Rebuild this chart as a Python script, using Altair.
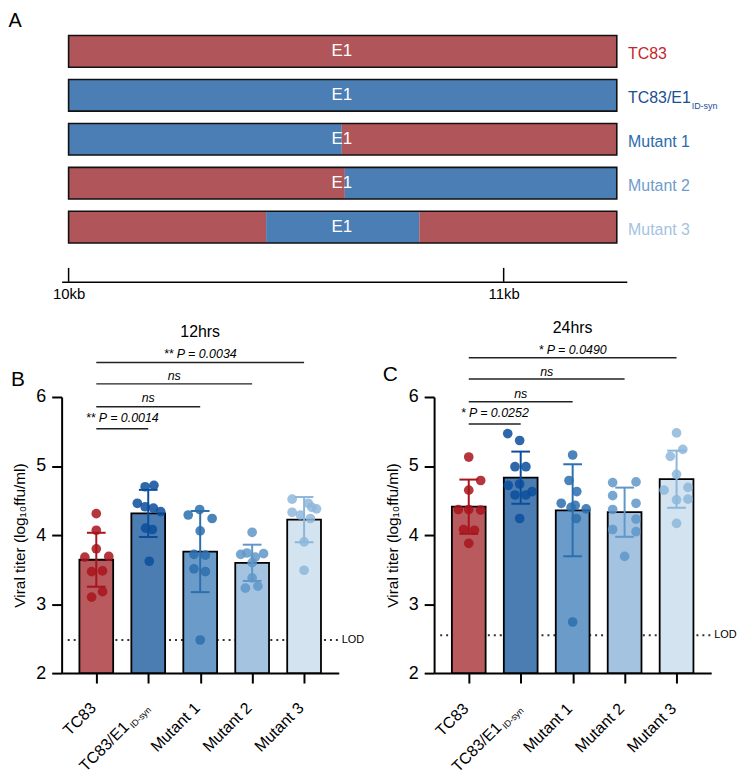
import altair as alt
import pandas as pd

FONT = "Liberation Sans"

# ---------------- Panel A: E1 genome map ----------------
map_rows = ["TC83", "TC83/E1", "Mutant 1", "Mutant 2", "Mutant 3"]
map_row_idx = [0, 1, 2, 3, 4]
map_label_colors = ["#c1272d", "#1a4e92", "#2b6bab", "#6e9ccb", "#a3c3e1"]
seg_row = [0, 1, 2, 2, 3, 3, 4, 4, 4]
seg_start = [10.0, 10.0, 10.0, 10.628, 10.0, 10.635, 10.0, 10.454, 10.806]
seg_end = [11.26, 11.26, 10.628, 11.26, 10.635, 11.26, 10.454, 10.806, 11.26]
seg_kind = ["TC83", "ID", "ID", "TC83", "TC83", "ID", "TC83", "ID", "TC83"]
gene_start = [10.0, 10.0, 10.0, 10.0, 10.0]
gene_end = [11.26, 11.26, 11.26, 11.26, 11.26]
e1_center = [10.628, 10.628, 10.628, 10.628, 10.628]
kb_ticks = [10, 11]

# ---------------- Panels B / C: viral titers ----------------
groups = ["TC83", "TC83/E1", "Mutant 1", "Mutant 2", "Mutant 3"]
bar_fill = ["#b85a5e", "#4b7db3", "#6b9bc9", "#a3c3e0", "#d3e3f0"]
point_color = ["#a8141c", "#0a4e9b", "#2c6fae", "#5f97c9", "#8db7da"]

# 12 hrs (log10 ffu/ml) and horizontal jitter (category units)
h12_tc83 = [4.31, 4.07, 3.80, 3.68, 3.69, 3.47, 3.48, 3.18, 3.10]
h12_tc83_dx = [0, 0, 0, -0.22, 0.24, -0.09, 0.12, 0.12, -0.09]
h12_e1 = [4.70, 4.72, 4.46, 4.41, 4.39, 4.34, 4.10, 4.08, 3.62]
h12_e1_dx = [-0.06, 0.11, -0.21, -0.06, 0.10, 0.24, -0.05, 0.08, 0.02]
h12_m1 = [4.29, 4.37, 4.24, 4.06, 3.72, 3.71, 3.51, 3.47, 2.48]
h12_m1_dx = [-0.23, -0.01, 0.23, 0, -0.12, 0.10, -0.12, 0.10, 0]
h12_m2 = [4.04, 3.72, 3.73, 3.74, 3.68, 3.60, 3.38, 3.23, 3.26]
h12_m2_dx = [0, -0.22, 0.22, -0.10, 0.06, 0, 0, -0.13, 0.11]
h12_m3 = [4.52, 4.46, 4.40, 4.38, 4.33, 4.29, 4.24, 3.90, 3.49]
h12_m3_dx = [-0.23, 0.08, 0.15, 0.24, -0.23, -0.07, 0.12, 0, 0]

# 24 hrs
h24_tc83 = [5.13, 4.79, 4.65, 4.37, 4.37, 4.36, 4.08, 4.07, 3.88]
h24_tc83_dx = [0, 0.23, 0, -0.20, 0, 0.23, -0.10, 0.11, 0]
h24_e1 = [5.47, 5.37, 4.99, 4.99, 4.72, 4.74, 4.63, 4.58, 4.58, 4.24]
h24_e1_dx = [-0.25, -0.02, -0.11, 0.10, -0.24, -0.02, 0.22, -0.11, 0.10, -0.02]
h24_m1 = [5.16, 4.79, 4.63, 4.46, 4.43, 4.40, 4.38, 4.24, 2.74]
h24_m1_dx = [0, -0.07, 0.08, -0.22, 0.05, -0.03, 0.26, 0.07, 0]
h24_m2 = [4.76, 4.77, 4.57, 4.46, 4.37, 4.23, 4.08, 4.05, 3.69]
h24_m2_dx = [-0.23, 0.22, -0.23, 0.22, -0.23, 0.22, -0.23, 0.22, 0]
h24_m3 = [5.48, 5.24, 5.14, 4.88, 4.65, 4.69, 4.51, 4.52, 4.17]
h24_m3_dx = [0, 0.12, -0.12, 0, -0.24, 0.22, 0, 0.22, 0]

# comparisons (vs TC83)
cmp_to = [1, 2, 3, 4]
cmp_12 = ["** P = 0.0014", "ns", "ns", "** P = 0.0034"]
cmp_24 = ["* P = 0.0252", "ns", "ns", "* P = 0.0490"]
lod_12 = 2.48
lod_24 = 2.55

# ------------------------------------------------------------
red_bar, blue_bar = "#b0565a", "#4a7eb5"

axA_x = alt.Scale(domain=[9.9840, 11.283], nice=False, zero=False)
axA_y = alt.Scale(domain=[-0.475, 5.243], nice=False, zero=False, reverse=True)
axisA = alt.Axis(values=kb_ticks, labelExpr="datum.value + 'kb'", ticks=False,
                 domainColor="black", domainWidth=1.5, labelFontSize=15,
                 labelColor="black", labelPadding=5, title=None, grid=False,
                 labelFlush=False)

seg_df = pd.DataFrame({"row": seg_row, "start": seg_start, "end": seg_end, "kind": seg_kind})
gene_df = pd.DataFrame({"row": map_row_idx, "name": map_rows, "start": gene_start,
                        "end": gene_end, "e1": e1_center})


def XA(f):
    return alt.X(f, scale=axA_x, axis=axisA)


def YA(f):
    return alt.Y(f, scale=axA_y, axis=None)


A_seg = alt.Chart(seg_df).transform_calculate(
    y1="datum.row - 0.36", y2="datum.row + 0.36"
).mark_rect().encode(
    x=XA("start:Q"), x2="end:Q", y=YA("y1:Q"), y2="y2:Q",
    fill=alt.Fill("kind:N", scale=alt.Scale(domain=["TC83", "ID"], range=[red_bar, blue_bar]),
                  legend=None),
)
A_outline = alt.Chart(gene_df).transform_calculate(
    y1="datum.row - 0.36", y2="datum.row + 0.36"
).mark_rect(fillOpacity=0, stroke="#111", strokeWidth=1.6).encode(
    x=XA("start:Q"), x2="end:Q", y=YA("y1:Q"), y2="y2:Q"
)
A_e1 = alt.Chart(gene_df).mark_text(color="white", fontSize=17, font=FONT,
                                    baseline="middle").encode(
    x=XA("e1:Q"), y=YA("row:Q"), text=alt.value("E1")
)
A_lab = alt.Chart(gene_df).transform_calculate(
    lx="11.286", ly="datum.row + 0.07"
).mark_text(align="left", baseline="middle", fontSize=16, font=FONT).encode(
    x=XA("lx:Q"), y=YA("ly:Q"), text="name:N",
    color=alt.Color("name:N", scale=alt.Scale(domain=map_rows, range=map_label_colors),
                    legend=None),
)
A_sub = alt.Chart(gene_df).transform_filter("datum.row == 1").transform_calculate(
    lx="11.286", ly="datum.row + 0.25"
).mark_text(align="left", baseline="middle", fontSize=9, font=FONT, dx=64,
            color=map_label_colors[1]).encode(
    x=XA("lx:Q"), y=YA("ly:Q"), text=alt.value("ID-syn")
)
A_ticks = alt.Chart(pd.DataFrame({"kb": kb_ticks})).transform_calculate(
    y1="4.927", y2="5.243"
).mark_rule(color="black", strokeWidth=1.5).encode(
    x=XA("kb:Q"), y=YA("y1:Q"), y2="y2:Q"
)
A_letter = alt.Chart(pd.DataFrame({"t": ["A"]})).transform_calculate(
    lx="9.877", ly="-0.68"
).mark_text(fontSize=20, font=FONT, baseline="middle", align="center").encode(
    x=XA("lx:Q"), y=YA("ly:Q"), text="t:N"
)

panelA = alt.layer(A_seg, A_outline, A_e1, A_lab, A_sub, A_ticks, A_letter).properties(
    width=569, height=253
)

# ------------------------------------------------------------
xs = alt.Scale(domain=[-0.667, 4.667], nice=False, zero=False)
ys = alt.Scale(domain=[2, 6], nice=False, zero=False)
axis_x = alt.Axis(values=[0, 1, 2, 3, 4], labels=False, title=None, tickSize=10,
                  tickWidth=2, tickColor="black", domainWidth=2, domainColor="black",
                  grid=False)
axis_y = alt.Axis(values=[2, 3, 4, 5, 6], title="Viral titer (log\u2081\u2080ffu/ml)",
                  titleFontSize=15.5, titleFontWeight="normal", titleColor="black",
                  titlePadding=8, labelFontSize=18, labelColor="black", labelPadding=6,
                  labelFlush=False, tickSize=10, tickWidth=2, tickColor="black",
                  domainWidth=2, domainColor="black", grid=False, format="d")


def X(f):
    return alt.X(f, scale=xs, axis=axis_x)


def Y(f):
    return alt.Y(f, scale=ys, axis=axis_y)


fill_scale = alt.Scale(domain=groups, range=bar_fill)
pt_scale = alt.Scale(domain=groups, range=point_color)


def make_points(vals, offs):
    rows = []
    for gi, (vv, oo) in enumerate(zip(vals, offs)):
        for v, o in zip(vv, oo):
            rows.append({"group": groups[gi], "idx": gi, "off": o, "value": v})
    return pd.DataFrame(rows)


def panel(pts, cmp_lab, bk_y, bk_ty, title, title_y, letter, letter_xy, lod, xlab_y):
    lod_df = pd.DataFrame({"x1": [-0.55], "x2": [4.667], "y": [lod]})
    lod_rule = alt.Chart(lod_df).mark_rule(strokeDash=[2, 4], strokeWidth=2,
                                           color="#333").encode(
        x=X("x1:Q"), x2="x2:Q", y=Y("y:Q"))
    lod_txt = alt.Chart(lod_df).mark_text(align="left", dx=3, fontSize=11, font=FONT,
                                          baseline="middle").encode(
        x=X("x2:Q"), y=Y("y:Q"), text=alt.value("LOD"))

    agg = alt.Chart(pts).transform_aggregate(
        mean="mean(value)", sd="stdev(value)", groupby=["idx", "group"]
    ).transform_calculate(
        x1="datum.idx - 0.325", x2="datum.idx + 0.325", base="2",
        lo="datum.mean - datum.sd", hi="datum.mean + datum.sd",
        c1="datum.idx - 0.18", c2="datum.idx + 0.18",
    )
    bars = agg.mark_rect(stroke="black", strokeWidth=1.8).encode(
        x=X("x1:Q"), x2="x2:Q", y=Y("mean:Q"), y2="base:Q",
        fill=alt.Fill("group:N", scale=fill_scale, legend=None))
    points = alt.Chart(pts).transform_calculate(px="datum.idx + datum.off").mark_circle(
        size=95, opacity=0.85).encode(
        x=X("px:Q"), y=Y("value:Q"),
        color=alt.Color("group:N", scale=pt_scale, legend=None))
    err = agg.mark_rule(strokeWidth=2).encode(
        x=X("idx:Q"), y=Y("lo:Q"), y2="hi:Q",
        color=alt.Color("group:N", scale=pt_scale, legend=None))
    cap_hi = agg.mark_rule(strokeWidth=2).encode(
        x=X("c1:Q"), x2="c2:Q", y=Y("hi:Q"),
        color=alt.Color("group:N", scale=pt_scale, legend=None))
    cap_lo = agg.mark_rule(strokeWidth=2).encode(
        x=X("c1:Q"), x2="c2:Q", y=Y("lo:Q"),
        color=alt.Color("group:N", scale=pt_scale, legend=None))

    bk_df = pd.DataFrame({"x1": [0, 0, 0, 0], "x2": cmp_to, "y": bk_y, "ty": bk_ty,
                          "t": cmp_lab})
    bk_rule = alt.Chart(bk_df).mark_rule(strokeWidth=1.5, color="#222").encode(
        x=X("x1:Q"), x2="x2:Q", y=Y("y:Q"))
    bk_txt = alt.Chart(bk_df).transform_calculate(xm="(datum.x1 + datum.x2) / 2").mark_text(
        fontStyle="italic", fontSize=12.5, font=FONT, baseline="middle").encode(
        x=X("xm:Q"), y=Y("ty:Q"), text="t:N")

    misc_df = pd.DataFrame({"x": [2, letter_xy[0]], "y": [title_y, letter_xy[1]],
                            "t": [title, letter], "s": [16, 21]})
    ttl = alt.Chart(misc_df).transform_filter("datum.s == 16").mark_text(
        fontSize=16, font=FONT, baseline="middle").encode(
        x=X("x:Q"), y=Y("y:Q"), text="t:N")
    let = alt.Chart(misc_df).transform_filter("datum.s == 21").mark_text(
        fontSize=21, font=FONT, baseline="middle").encode(
        x=X("x:Q"), y=Y("y:Q"), text="t:N")

    lab_df = pd.DataFrame({"idx": [0, 1, 2, 3, 4], "t": groups})
    lab_df["ly"] = xlab_y
    xl_main = alt.Chart(lab_df).transform_filter("datum.idx != 1").mark_text(
        angle=315, align="right", baseline="middle", fontSize=16, font=FONT, dx=-4).encode(
        x=X("idx:Q"), y=Y("ly:Q"), text="t:N")
    xl_e1 = alt.Chart(lab_df).transform_filter("datum.idx == 1").mark_text(
        angle=315, align="right", baseline="middle", fontSize=16, font=FONT, dx=-31).encode(
        x=X("idx:Q"), y=Y("ly:Q"), text="t:N")
    xl_sub = alt.Chart(lab_df).transform_filter("datum.idx == 1").mark_text(
        angle=315, align="left", baseline="middle", fontSize=9, font=FONT, dx=-29, dy=5).encode(
        x=X("idx:Q"), y=Y("ly:Q"), text=alt.value("ID-syn"))

    return alt.layer(lod_rule, lod_txt, bars, points, err, cap_hi, cap_lo, bk_rule, bk_txt,
                     ttl, let, xl_main, xl_e1, xl_sub).properties(width=279, height=278)


pts12 = make_points([h12_tc83, h12_e1, h12_m1, h12_m2, h12_m3],
                    [h12_tc83_dx, h12_e1_dx, h12_m1_dx, h12_m2_dx, h12_m3_dx])
pts24 = make_points([h24_tc83, h24_e1, h24_m1, h24_m2, h24_m3],
                    [h24_tc83_dx, h24_e1_dx, h24_m1_dx, h24_m2_dx, h24_m3_dx])

panelB = panel(pts12, cmp_12, [5.54, 5.86, 6.19, 6.50], [5.70, 5.99, 6.30, 6.62],
               "12hrs", 6.94, "B", (-1.508, 6.24), lod_12, 1.57)
panelC = panel(pts24, cmp_24, [5.61, 5.93, 6.26, 6.57], [5.77, 6.05, 6.36, 6.68],
               "24hrs", 7.0, "C", (-1.508, 6.32), lod_24, 1.56)

row2 = alt.hconcat(panelB, panelC, spacing=18)
chart = alt.vconcat(panelA, row2, spacing=18).resolve_scale(
    fill="independent", color="independent"
).configure(font=FONT).configure_view(strokeWidth=0, stroke="transparent").properties(
    padding={"left": 0, "top": 0, "right": 5, "bottom": 5}
)

chart.save("out.html", embed_options={"renderer": "svg", "actions": False})
